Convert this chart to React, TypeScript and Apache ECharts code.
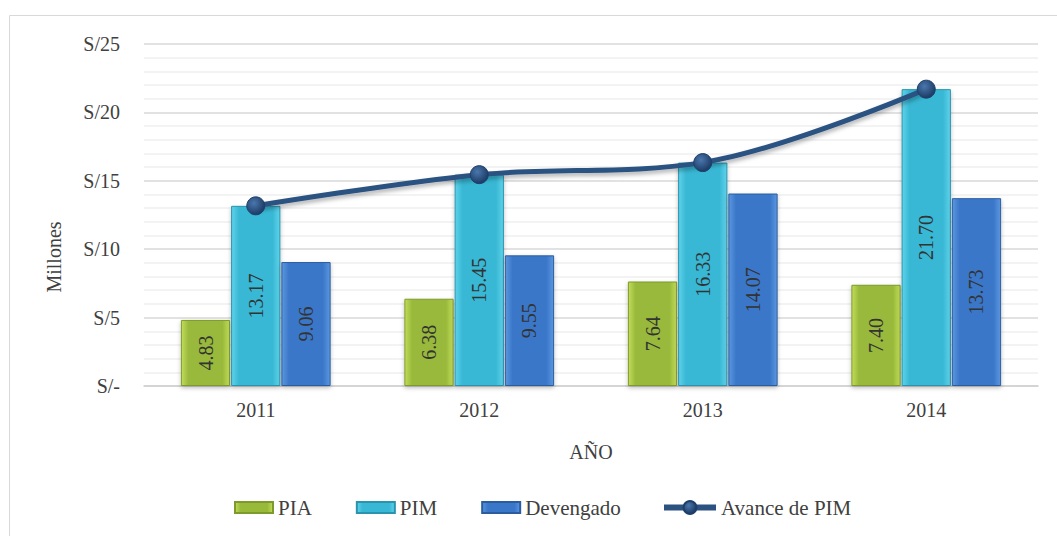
import React, { useEffect, useRef } from "react";
import * as echarts from "echarts";

const years = ["2011", "2012", "2013", "2014"];
const pia = [4.83, 6.38, 7.64, 7.4];
const pim = [13.17, 15.45, 16.33, 21.7];
const devengado = [9.06, 9.55, 14.07, 13.73];
const avance = [13.17, 15.45, 16.33, 21.7];
const yTicks = [0, 5, 10, 15, 20, 25];

const FONT = "Liberation Serif";
const TXT = "#404040";

function grad(top: string, bottom: string) {
  return new echarts.graphic.LinearGradient(0, 0, 1, 0, [
    { offset: 0, color: top },
    { offset: 0.15, color: bottom },
    { offset: 0.85, color: bottom },
    { offset: 1, color: top },
  ]);
}

export default function App() {
  const ref = useRef<HTMLDivElement>(null);
  useEffect(() => {
    const chart = echarts.init(ref.current!, null, { renderer: "svg" });
    const barLabel = {
      show: true,
      position: "inside",
      rotate: 90,
      fontFamily: FONT,
      fontSize: 20,
      color: "#333333",
      formatter: (p: any) => Number(p.value).toFixed(2),
    };
    const legendText = { fontFamily: FONT, fontSize: 21, color: TXT };
    chart.setOption({
      animation: false,
      backgroundColor: "#ffffff",
      textStyle: { fontFamily: FONT },
      graphic: [
        {
          type: "rect",
          shape: { x: 9.5, y: 15.5, width: 1100, height: 600 },
          style: { fill: "none", stroke: "#d9d9d9", lineWidth: 1 },
          silent: true,
        },
        {
          type: "text",
          x: 54,
          y: 257,
          rotation: Math.PI / 2,
          style: {
            text: "Millones",
            fontFamily: FONT,
            fontSize: 20,
            fill: TXT,
            align: "center",
            verticalAlign: "middle",
          },
          silent: true,
        },
      ],
      grid: { left: 144, right: 19, top: 44, bottom: 150 },
      legend: [
        {
          left: 229,
          top: 492,
          itemGap: 44,
          itemWidth: 38,
          itemHeight: 11,
          textStyle: legendText,
          data: [
            { name: "PIA", icon: "rect" },
            { name: "PIM", icon: "rect" },
            { name: "Devengado", icon: "rect" },
          ],
        },
        {
          left: 656,
          top: 492,
          itemWidth: 52,
          itemHeight: 16,
          textStyle: legendText,
          lineStyle: { width: 6 },
          data: [{ name: "Avance de PIM" }],
        },
      ],
      xAxis: {
        type: "category",
        data: years,
        name: "AÑO",
        nameLocation: "middle",
        nameGap: 56,
        nameTextStyle: { fontFamily: FONT, fontSize: 20, color: TXT },
        axisTick: { show: false },
        axisLine: { lineStyle: { color: "#d0d0d0", width: 1.5 } },
        axisLabel: { fontFamily: FONT, fontSize: 20, color: TXT, margin: 14 },
      },
      yAxis: {
        type: "value",
        min: 0,
        max: 25,
        interval: 5,
        axisLabel: {
          fontFamily: FONT,
          fontSize: 20,
          color: TXT,
          margin: 24,
          formatter: (v: number) => (v === yTicks[0] ? "S/-" : "S/" + v),
        },
        splitLine: { lineStyle: { color: "#d9d9d9", width: 1.5 } },
        minorTick: { show: false, splitNumber: 5 },
        minorSplitLine: { show: true, lineStyle: { color: "#efefef", width: 1.5 } },
        axisLine: { show: false },
        axisTick: { show: false },
      },
      series: [
        {
          name: "PIA",
          type: "bar",
          data: pia,
          barGap: "2%",
          barCategoryGap: "33%",
          itemStyle: {
            color: grad("#c3dc5a", "#98b93a"),
            borderColor: "#7d9a2c",
            borderWidth: 1,
            shadowColor: "rgba(0,0,0,0.25)",
            shadowBlur: 4,
            shadowOffsetY: 2,
          },
          label: barLabel,
        },
        {
          name: "PIM",
          type: "bar",
          data: pim,
          itemStyle: {
            color: grad("#5fd3ea", "#39b8d5"),
            borderColor: "#2a93ad",
            borderWidth: 1,
            shadowColor: "rgba(0,0,0,0.25)",
            shadowBlur: 4,
            shadowOffsetY: 2,
          },
          label: barLabel,
        },
        {
          name: "Devengado",
          type: "bar",
          data: devengado,
          itemStyle: {
            color: grad("#5b97e0", "#3a77c8"),
            borderColor: "#2b5d9e",
            borderWidth: 1,
            shadowColor: "rgba(0,0,0,0.25)",
            shadowBlur: 4,
            shadowOffsetY: 2,
          },
          label: barLabel,
        },
        {
          name: "Avance de PIM",
          type: "line",
          data: avance,
          smooth: 0.35,
          symbol: "circle",
          symbolSize: 18,
          z: 5,
          lineStyle: {
            color: "#2c5282",
            width: 5,
            shadowColor: "rgba(0,0,0,0.3)",
            shadowBlur: 4,
            shadowOffsetY: 3,
          },
          itemStyle: {
            color: new echarts.graphic.RadialGradient(0.4, 0.35, 0.6, [
              { offset: 0, color: "#4a77ad" },
              { offset: 1, color: "#1f3f6a" },
            ]),
            borderColor: "#1f3f6a",
            borderWidth: 1,
          },
        },
      ],
    });
    return () => chart.dispose();
  }, []);
  return (
    <div
      ref={ref}
      style={{ position: "fixed", left: 0, top: 0, width: 1057, height: 536 }}
    />
  );
}
